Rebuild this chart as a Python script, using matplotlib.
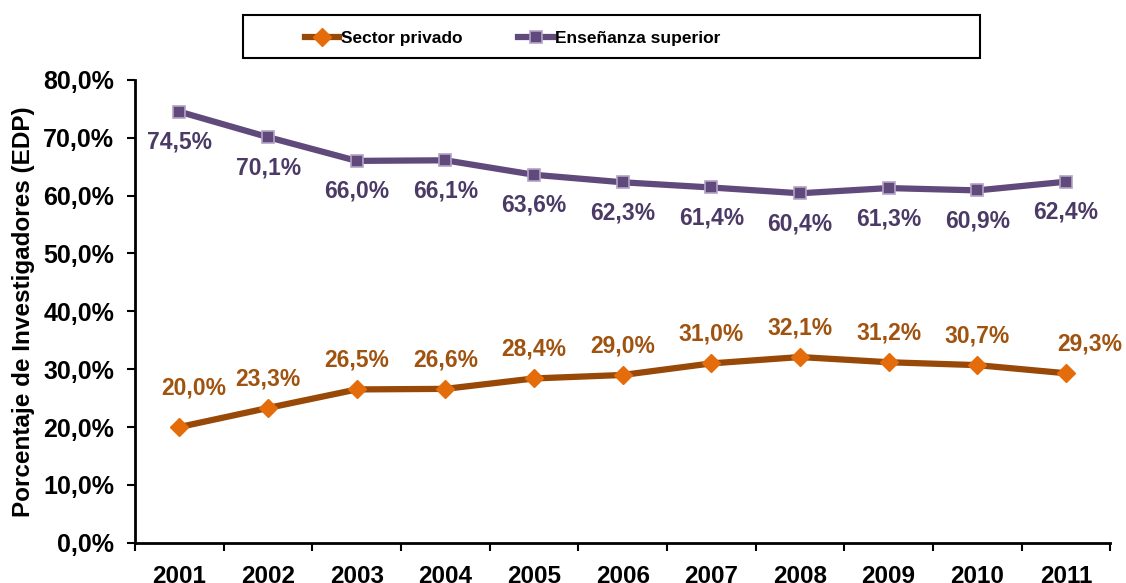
import matplotlib.pyplot as plt
from matplotlib.patches import Rectangle
import numpy as np

plt.rcParams['font.family'] = ['Liberation Sans', 'DejaVu Sans']
plt.rcParams['font.weight'] = 'bold'

# data
years = ['2001', '2002', '2003', '2004', '2005', '2006', '2007', '2008', '2009', '2010', '2011']
privado = [20.0, 23.3, 26.5, 26.6, 28.4, 29.0, 31.0, 32.1, 31.2, 30.7, 29.3]
superior = [74.5, 70.1, 66.0, 66.1, 63.6, 62.3, 61.4, 60.4, 61.3, 60.9, 62.4]

c_priv_line = '#984807'
c_priv_mark = '#E46C0A'
c_priv_text = '#A0520F'
c_sup_line = '#604A7B'
c_sup_text = '#4B3A66'

fig = plt.figure(figsize=(11.26, 5.83), dpi=100)
ax = fig.add_axes([0.12, 0.069, 0.866, 0.794])

x = np.arange(len(years))
ax.plot(x, privado, color=c_priv_line, lw=4.5, marker='D', ms=9,
        mfc=c_priv_mark, mec=c_priv_mark, label='Sector privado')
ax.plot(x, superior, color=c_sup_line, lw=4.5, marker='s', ms=8,
        mfc=c_sup_line, mec='#B3A2C7', mew=1.2, label='Enseñanza superior')

def fmt(v):
    return ('%.1f%%' % v).replace('.', ',')

# data labels
last = len(years) - 1
for i, v in enumerate(superior):
    ax.annotate(fmt(v), (i, v), xytext=(0, -22), textcoords='offset points',
                ha='center', va='center', fontsize=16.5, color=c_sup_text, fontweight='bold')
for i, v in enumerate(privado):
    dx = 10 if i == 0 else (17 if i == last else 0)
    dy = 28 if i == 0 else 21
    ax.annotate(fmt(v), (i, v), xytext=(dx, dy), textcoords='offset points',
                ha='center', va='center', fontsize=16.5, color=c_priv_text, fontweight='bold')

ax.set_ylim(0, 80)
ax.set_xlim(-0.5, len(years) - 0.5)
ax.set_yticks(np.arange(0, 81, 10))
ax.set_yticklabels([fmt(v) for v in np.arange(0, 81, 10)], fontsize=18, fontweight='bold')
ax.set_xticks(np.arange(-0.5, len(years), 1))
ax.set_xticklabels([])
ax.set_xticks(x, minor=True)
ax.set_xticklabels(years, minor=True, fontsize=17.5, fontweight='bold')
ax.tick_params(axis='x', which='minor', length=0, pad=16)
ax.tick_params(axis='both', which='major', direction='out', length=6, width=1.5)
ax.tick_params(axis='y', pad=9)
for s in ['top', 'right']:
    ax.spines[s].set_visible(False)
for s in ['left', 'bottom']:
    ax.spines[s].set_linewidth(2)
ax.set_ylabel('Porcentaje de Investigadores (EDP)', fontsize=17.5, fontweight='bold', labelpad=6)

# legend with boxed frame
fig.patches.append(Rectangle((243 / 1126, 1 - 58 / 583), (980 - 243) / 1126, 43 / 583,
                             transform=fig.transFigure, fill=False, ec='black', lw=1.5))
fig.legend(loc='center', bbox_to_anchor=(0.455, 1 - 38 / 583), ncol=2, frameon=False,
           fontsize=12.5, handlelength=2.0, columnspacing=3.2, handletextpad=0.1)

fig.savefig('out.png', dpi=100)
